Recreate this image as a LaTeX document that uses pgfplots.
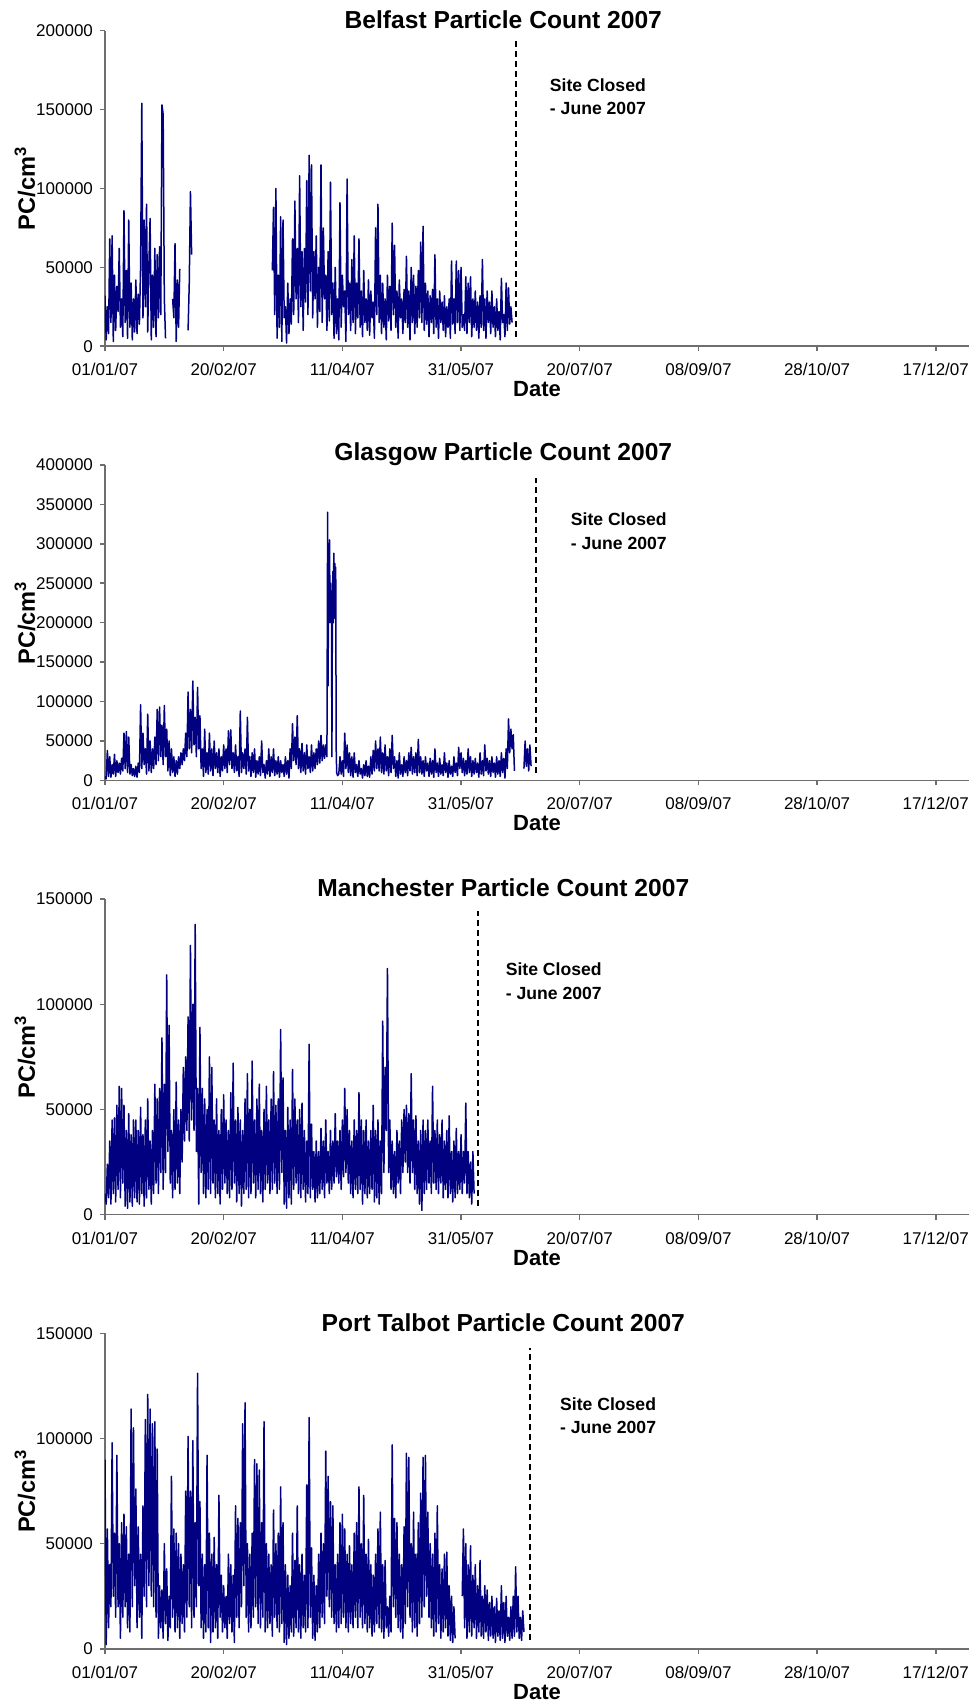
\documentclass[border=0pt]{standalone}
\usepackage{fontspec}
\setmainfont{Liberation Sans}
\usepackage{pgfplots}
\pgfplotsset{compat=1.18}
\definecolor{navyline}{RGB}{0,0,128}
\definecolor{axgray}{RGB}{110,110,110}
\pgfplotsset{
  pcaxis/.style={
    scale only axis, width=432pt, height=157.75pt,
    xmin=0, xmax=364, ymin=0,
    axis x line*=bottom, axis y line*=left,
    axis line style={axgray, line width=0.75pt},
    tick style={axgray, line width=0.75pt},
    tick align=outside, major tick length=2.5pt,
    xtick={0,50,...,350},
    xticklabels={01/01/07,20/02/07,11/04/07,31/05/07,20/07/07,08/09/07,28/10/07,17/12/07},
    ticklabel style={font=\fontsize{8.5}{10}\selectfont, text=black},
    xticklabel style={yshift=-2.5pt},
    xlabel={Date}, ylabel={PC/cm\textsuperscript{3}},
    label style={font=\bfseries\fontsize{11}{12}\selectfont},
    xlabel style={at={(axis description cs:0.5,-0.1363)}, anchor=center},
    ylabel style={at={(axis description cs:-0.0926,0.5)}, anchor=center,
      font=\bfseries\fontsize{11.8}{13}\selectfont},
    every axis title shift=0pt,
    title style={at={(axis description cs:0.461,1)}, anchor=center, yshift=5.5pt,
      font=\bfseries\fontsize{12.3}{14}\selectfont},
  },
  pc/.style={color=navyline, line width=0.75pt, mark=none, line join=round},
}
\tikzset{
  closed/.style={black, line width=1pt, dash pattern=on 3pt off 2pt},
  note/.style={anchor=west, inner sep=0pt, font=\bfseries\fontsize{8.8}{10}\selectfont},
}

\begin{document}
\begin{tikzpicture}
\useasboundingbox (0,0) rectangle (488pt,-852pt);

% Belfast
\begin{axis}[pcaxis, at={(52.5pt,-15.35pt)}, anchor=north west,
  title={Belfast Particle Count 2007},
  ymax=200, ytick={0,50,100,150,200},
  yticklabels={0,50000,100000,150000,200000}]
\addplot[pc] coordinates {(0,32)(0.5,4)(1,25)(1.5,8)(2,68)(2.5,15)(3,70)(3.5,3)(4,45)(4.5,10)(5,38)(5.5,22)(6,62)(6.5,12)(7,30)(7.5,6)(8,86)(8.5,15)(9,48)(9.5,5)(10,80)(10.5,12)(11,40)(11.5,4)(12,30)(12.5,9)(13,42)(13.5,8)(14,33)(14.5,14)(15,51)(15.5,154)(16,18)(16.5,80)(17,25)(17.5,90)(18,9)(18.5,52)(19,81)(19.5,4)(20,45)(20.5,12)(21,62)(21.5,6)(22,58)(22.5,18)(23,63)(23.5,20)(24,153)(24.5,147)(25,30)(25.5,5)};
\addplot[pc] coordinates {(28.5,30)(29,18)(29.5,65)(30,3)(30.5,42)(31,12)(31.5,49)};
\addplot[pc] coordinates {(35,10)(35.5,40)(36,98)(36.5,58)};
\addplot[pc] coordinates {(70.5,48)(71,88)(71.5,20)(72,100)(72.5,5)(73,45)(73.5,12)(74,82)(74.5,3)(75,80)(75.5,18)(76,25)(76.5,2)(77,40)(77.5,8)(78,30)(78.5,14)(79,68)(79.5,20)(80,92)(80.5,30)(81,62)(81.5,15)(82,108)(82.5,25)(83,60)(83.5,10)(84,62)(84.5,28)(85,105)(85.5,20)(86,121)(86.5,35)(87,115)(87.5,18)(88,60)(88.5,30)(89,70)(89.5,12)(90,50)(90.5,22)(91,115)(91.5,15)(92,75)(92.5,30)(93,45)(93.5,10)(94,60)(94.5,16)(95,104)(95.5,20)(96,40)(96.5,5)(97,50)(97.5,8)(98,30)(98.5,4)(99,91)(99.5,12)(100,45)(100.5,25)(101,35)(101.5,3)(102,106)(102.5,20)(103,40)(103.5,10)(104,55)(104.5,15)(105,70)(105.5,8)(106,40)(106.5,18)(107,68)(107.5,12)(108,35)(108.5,6)(109,48)(109.5,15)(110,30)(110.5,10)(111,42)(111.5,7)(112,35)(112.5,18)(113,28)(113.5,5)(114,75)(114.5,20)(115,90)(115.5,15)(116,45)(116.5,8)(117,40)(117.5,12)(118,30)(118.5,4)(119,45)(119.5,16)(120,38)(120.5,10)(121,78)(121.5,20)(122,64)(122.5,12)(123,35)(123.5,5)(124,42)(124.5,18)(125,30)(125.5,8)(126,36)(126.5,15)(127,57)(127.5,12)(128,35)(128.5,4)(129,50)(129.5,15)(130,45)(130.5,8)(131,38)(131.5,12)(132,48)(132.5,18)(133,66)(133.5,15)(134,76)(134.5,10)(135,40)(135.5,14)(136,35)(136.5,6)(137,32)(137.5,15)(138,36)(138.5,8)(139,58)(139.5,12)(140,30)(140.5,5)(141,35)(141.5,15)(142,28)(142.5,10)(143,32)(143.5,6)(144,25)(144.5,12)(145,30)(145.5,5)(146,54)(146.5,14)(147,30)(147.5,8)(148,54)(148.5,15)(149,48)(149.5,10)(150,50)(150.5,12)(151,20)(151.5,10)(152,44)(152.5,8)(153,40)(153.5,15)(154,44)(154.5,6)(155,30)(155.5,12)(156,35)(156.5,10)(157,28)(157.5,5)(158,32)(158.5,12)(159,55)(159.5,10)(160,30)(160.5,5)(161,35)(161.5,15)(162,28)(162.5,8)(163,35)(163.5,12)(164,25)(164.5,6)(165,30)(165.5,10)(166,22)(166.5,4)(167,43)(167.5,15)(168,20)(168.5,6)(169,40)(169.5,10)(170,37)(170.5,14)(171,25)(171.5,15)};
\draw[closed] (axis cs:173.3,6) -- (axis cs:173.3,194);
\node[note] at (axis cs:187.3,165.6) {Site Closed};
\node[note] at (axis cs:187.3,150.9) {- June 2007};
\end{axis}

% Glasgow
\begin{axis}[pcaxis, at={(52.5pt,-232.45pt)}, anchor=north west,
  title={Glasgow Particle Count 2007},
  ymax=400, ytick={0,50,...,400},
  yticklabels={0,50000,100000,150000,200000,250000,300000,350000,400000}]
\addplot[pc] coordinates {(0,5)(0.5,2)(1,38)(1.5,5)(2,30)(2.5,4)(3,20)(3.5,8)(4,33)(4.5,5)(5,25)(5.5,10)(6,22)(6.5,8)(7,28)(7.5,12)(8,60)(8.5,15)(9,62)(9.5,10)(10,55)(10.5,8)(11,20)(11.5,6)(12,15)(12.5,5)(13,18)(13.5,4)(14,22)(14.5,10)(15,96)(15.5,15)(16,60)(16.5,20)(17,40)(17.5,8)(18,84)(18.5,12)(19,50)(19.5,10)(20,40)(20.5,15)(21,55)(21.5,20)(22,90)(22.5,25)(23,93)(23.5,30)(24,70)(24.5,20)(25,95)(25.5,30)(26,65)(26.5,12)(27,50)(27.5,6)(28,40)(28.5,10)(29,30)(29.5,5)(30,25)(30.5,8)(31,30)(31.5,15)(32,35)(32.5,20)(33,40)(33.5,25)(34,60)(34.5,30)(35,112)(35.5,40)(36,90)(36.5,35)(37,126)(37.5,45)(38,80)(38.5,30)(39,118)(39.5,40)(40,82)(40.5,15)(41,40)(41.5,5)(42,65)(42.5,10)(43,35)(43.5,8)(44,60)(44.5,12)(45,40)(45.5,6)(46,50)(46.5,15)(47,35)(47.5,10)(48,40)(48.5,5)(49,30)(49.5,12)(50,45)(50.5,15)(51,40)(51.5,10)(52,63)(52.5,20)(53,64)(53.5,15)(54,35)(54.5,10)(55,45)(55.5,12)(56,30)(56.5,5)(57,88)(57.5,10)(58,35)(58.5,15)(59,40)(59.5,8)(60,80)(60.5,12)(61,30)(61.5,5)(62,35)(62.5,10)(63,40)(63.5,4)(64,25)(64.5,8)(65,30)(65.5,6)(66,50)(66.5,10)(67,20)(67.5,3)(68,25)(68.5,8)(69,40)(69.5,5)(70,30)(70.5,10)(71,40)(71.5,6)(72,25)(72.5,8)(73,30)(73.5,4)(74,25)(74.5,10)(75,20)(75.5,5)(76,30)(76.5,8)(77,25)(77.5,3)(78,40)(78.5,15)(79,72)(79.5,25)(80,55)(80.5,20)(81,82)(81.5,15)(82,40)(82.5,10)(83,47)(83.5,12)(84,35)(84.5,8)(85,45)(85.5,15)(86,30)(86.5,10)(87,45)(87.5,12)(88,35)(88.5,15)(89,40)(89.5,20)(90,50)(90.5,22)(91,57)(91.5,25)(92,45)(92.5,28)(93,45)(93.5,30)(93.8,340)(94,120)(94.2,300)(94.4,220)(94.6,305)(94.8,200)(95,250)(95.2,210)(95.4,240)(95.6,30)(95.8,220)(96,265)(96.2,200)(96.4,288)(96.6,210)(96.8,275)(97,205)(97.2,270)(97.4,40)(97.6,10)(98,6)(98.5,8)(99,30)(99.5,8)(100,25)(100.5,5)(101,60)(101.5,15)(102,45)(102.5,10)(103,35)(103.5,6)(104,30)(104.5,4)(105,35)(105.5,10)(106,20)(106.5,5)(107,25)(107.5,8)(108,15)(108.5,3)(109,20)(109.5,6)(110,25)(110.5,5)(111,18)(111.5,4)(112,30)(112.5,8)(113,38)(113.5,12)(114,50)(114.5,15)(115,40)(115.5,12)(116,55)(116.5,10)(117,35)(117.5,8)(118,45)(118.5,12)(119,30)(119.5,6)(120,40)(120.5,10)(121,57)(121.5,15)(122,30)(122.5,5)(123,25)(123.5,3)(124,35)(124.5,8)(125,20)(125.5,5)(126,30)(126.5,10)(127,25)(127.5,6)(128,35)(128.5,12)(129,42)(129.5,8)(130,30)(130.5,10)(131,35)(131.5,6)(132,52)(132.5,10)(133,30)(133.5,8)(134,25)(134.5,5)(135,30)(135.5,12)(136,22)(136.5,5)(137,28)(137.5,8)(138,25)(138.5,4)(139,40)(139.5,10)(140,22)(140.5,5)(141,28)(141.5,8)(142,20)(142.5,6)(143,35)(143.5,10)(144,22)(144.5,4)(145,25)(145.5,8)(146,18)(146.5,5)(147,30)(147.5,10)(148,22)(148.5,6)(149,42)(149.5,15)(150,35)(150.5,10)(151,28)(151.5,6)(152,25)(152.5,8)(153,40)(153.5,10)(154,30)(154.5,5)(155,25)(155.5,8)(156,28)(156.5,10)(157,22)(157.5,4)(158,35)(158.5,8)(159,25)(159.5,6)(160,45)(160.5,12)(161,28)(161.5,8)(162,25)(162.5,5)(163,30)(163.5,10)(164,22)(164.5,4)(165,30)(165.5,8)(166,25)(166.5,5)(167,35)(167.5,10)(168,28)(168.5,3)(169,40)(169.5,15)(170,78)(170.5,35)(171,65)(171.5,40)(172,58)(172.5,12)};
\addplot[pc] coordinates {(176.5,15)(177,50)(177.5,18)(178,40)(178.5,12)(179,45)(179.5,18)};
\draw[closed] (axis cs:181.4,10) -- (axis cs:181.4,383);
\node[note] at (axis cs:196.1,331) {Site Closed};
\node[note] at (axis cs:196.1,300.6) {- June 2007};
\end{axis}

% Manchester
\begin{axis}[pcaxis, at={(52.5pt,-449.55pt)}, anchor=north west,
  title={Manchester Particle Count 2007},
  ymax=150, ytick={0,50,100,150},
  yticklabels={0,50000,100000,150000}]
\addplot[pc] coordinates {(0,10)(0.5,5)(1,24)(1.5,8)(2,35)(2.5,5)(3,45)(3.5,10)(4,46)(4.5,6)(5,52)(5.5,12)(6,61)(6.5,8)(7,60)(7.5,15)(8,52)(8.5,4)(9,40)(9.5,3)(10,48)(10.5,6)(11,38)(11.5,4)(12,45)(12.5,8)(13,45)(13.5,6)(14,40)(14.5,5)(15,51)(15.5,10)(16,38)(16.5,4)(17,45)(17.5,8)(18,55)(18.5,12)(19,35)(19.5,5)(20,40)(20.5,10)(21,62)(21.5,15)(22,55)(22.5,10)(23,60)(23.5,20)(24,84)(24.5,12)(25,62)(25.5,20)(26,114)(26.5,30)(27,90)(27.5,15)(28,40)(28.5,8)(29,50)(29.5,12)(30,63)(30.5,15)(31,45)(31.5,10)(32,50)(32.5,25)(33,70)(33.5,35)(34,75)(34.5,40)(35,94)(35.5,35)(36,128)(36.5,45)(37,100)(37.5,40)(38,138)(38.5,30)(39,60)(39.5,5)(40,89)(40.5,20)(41,60)(41.5,10)(42,55)(42.5,8)(43,50)(43.5,12)(44,75)(44.5,10)(45,70)(45.5,15)(46,45)(46.5,8)(47,55)(47.5,10)(48,40)(48.5,5)(49,50)(49.5,12)(50,57)(50.5,15)(51,45)(51.5,10)(52,40)(52.5,8)(53,58)(53.5,12)(54,72)(54.5,15)(55,45)(55.5,6)(56,51)(56.5,10)(57,45)(57.5,4)(58,40)(58.5,10)(59,55)(59.5,12)(60,67)(60.5,8)(61,50)(61.5,10)(62,73)(62.5,15)(63,45)(63.5,8)(64,55)(64.5,12)(65,62)(65.5,10)(66,40)(66.5,6)(67,50)(67.5,12)(68,61)(68.5,15)(69,45)(69.5,10)(70,55)(70.5,12)(71,68)(71.5,15)(72,52)(72.5,10)(73,55)(73.5,12)(74,88)(74.5,20)(75,65)(75.5,5)(76,40)(76.5,3)(77,51)(77.5,8)(78,45)(78.5,5)(79,69)(79.5,12)(80,55)(80.5,15)(81,45)(81.5,10)(82,50)(82.5,8)(83,53)(83.5,12)(84,40)(84.5,6)(85,35)(85.5,10)(86,81)(86.5,8)(87,43)(87.5,12)(88,30)(88.5,6)(89,35)(89.5,8)(90,30)(90.5,10)(91,41)(91.5,12)(92,35)(92.5,8)(93,45)(93.5,15)(94,30)(94.5,10)(95,40)(95.5,12)(96,35)(96.5,15)(97,48)(97.5,18)(98,35)(98.5,15)(99,40)(99.5,12)(100,45)(100.5,18)(101,60)(101.5,20)(102,50)(102.5,15)(103,40)(103.5,10)(104,35)(104.5,8)(105,45)(105.5,12)(106,40)(106.5,10)(107,58)(107.5,12)(108,45)(108.5,5)(109,40)(109.5,10)(110,45)(110.5,8)(111,35)(111.5,10)(112,40)(112.5,12)(113,52)(113.5,6)(114,40)(114.5,8)(115,45)(115.5,5)(116,35)(116.5,10)(117,92)(117.5,20)(118,70)(118.5,40)(119,117)(119.5,20)(120,45)(120.5,12)(121,35)(121.5,10)(122,30)(122.5,8)(123,40)(123.5,15)(124,35)(124.5,10)(125,45)(125.5,20)(126,50)(126.5,25)(127,52)(127.5,20)(128,48)(128.5,15)(129,67)(129.5,20)(130,45)(130.5,12)(131,47)(131.5,10)(132,35)(132.5,5)(133,40)(133.5,2)(134,45)(134.5,10)(135,40)(135.5,12)(136,45)(136.5,15)(137,35)(137.5,10)(138,61)(138.5,15)(139,40)(139.5,12)(140,45)(140.5,10)(141,38)(141.5,15)(142,45)(142.5,8)(143,35)(143.5,12)(144,40)(144.5,8)(145,47)(145.5,10)(146,30)(146.5,6)(147,35)(147.5,8)(148,41)(148.5,10)(149,30)(149.5,12)(150,38)(150.5,10)(151,30)(151.5,15)(152,53)(152.5,10)(153,30)(153.5,8)(154,25)(154.5,5)(155,30)(155.5,10)};
\draw[closed] (axis cs:157.3,4) -- (axis cs:157.3,144.3);
\node[note] at (axis cs:168.7,116.5) {Site Closed};
\node[note] at (axis cs:168.7,105.1) {- June 2007};
\end{axis}

% Port Talbot
\begin{axis}[pcaxis, at={(52.5pt,-666.65pt)}, anchor=north west,
  title={Port Talbot Particle Count 2007},
  ymax=150, ytick={0,50,100,150},
  yticklabels={0,50000,100000,150000}]
\addplot[pc] coordinates {(0,90)(0.5,2)(1,57)(1.5,10)(2,40)(2.5,20)(3,98)(3.5,25)(4,55)(4.5,15)(5,92)(5.5,20)(6,50)(6.5,5)(7,60)(7.5,15)(8,64)(8.5,20)(9,58)(9.5,10)(10,45)(10.5,8)(11,114)(11.5,20)(12,105)(12.5,30)(13,76)(13.5,10)(14,58)(14.5,15)(15,45)(15.5,5)(16,68)(16.5,25)(17,109)(17.5,20)(18,121)(18.5,30)(19,114)(19.5,25)(20,107)(20.5,20)(21,108)(21.5,15)(22,95)(22.5,5)(23,30)(23.5,10)(24,28)(24.5,5)(25,50)(25.5,12)(26,38)(26.5,4)(27,25)(27.5,10)(28,82)(28.5,15)(29,57)(29.5,8)(30,55)(30.5,10)(31,50)(31.5,5)(32,45)(32.5,12)(33,40)(33.5,8)(34,75)(34.5,15)(35,101)(35.5,20)(36,75)(36.5,10)(37,99)(37.5,15)(38,60)(38.5,20)(39,131)(39.5,30)(40,70)(40.5,10)(41,45)(41.5,5)(42,40)(42.5,8)(43,92)(43.5,10)(44,55)(44.5,3)(45,45)(45.5,8)(46,53)(46.5,10)(47,40)(47.5,5)(48,73)(48.5,15)(49,35)(49.5,8)(50,30)(50.5,10)(51,25)(51.5,5)(52,45)(52.5,12)(53,40)(53.5,8)(54,35)(54.5,3)(55,68)(55.5,15)(56,62)(56.5,10)(57,60)(57.5,20)(58,107)(58.5,30)(59,117)(59.5,15)(60,50)(60.5,8)(61,45)(61.5,10)(62,55)(62.5,15)(63,90)(63.5,20)(64,88)(64.5,12)(65,85)(65.5,10)(66,60)(66.5,15)(67,108)(67.5,8)(68,50)(68.5,10)(69,45)(69.5,12)(70,40)(70.5,6)(71,66)(71.5,15)(72,50)(72.5,10)(73,55)(73.5,8)(74,77)(74.5,12)(75,60)(75.5,3)(76,40)(76.5,2)(77,35)(77.5,5)(78,30)(78.5,8)(79,55)(79.5,6)(80,42)(80.5,10)(81,68)(81.5,8)(82,40)(82.5,5)(83,45)(83.5,10)(84,35)(84.5,8)(85,78)(85.5,10)(86,110)(86.5,15)(87,48)(87.5,5)(88,35)(88.5,4)(89,30)(89.5,8)(90,45)(90.5,10)(91,55)(91.5,15)(92,50)(92.5,12)(93,94)(93.5,25)(94,82)(94.5,20)(95,70)(95.5,15)(96,68)(96.5,12)(97,40)(97.5,8)(98,45)(98.5,10)(99,60)(99.5,12)(100,64)(100.5,15)(101,57)(101.5,10)(102,45)(102.5,8)(103,49)(103.5,12)(104,40)(104.5,10)(105,55)(105.5,15)(106,60)(106.5,10)(107,77)(107.5,15)(108,50)(108.5,10)(109,73)(109.5,12)(110,45)(110.5,8)(111,52)(111.5,10)(112,40)(112.5,6)(113,35)(113.5,8)(114,45)(114.5,12)(115,57)(115.5,10)(116,65)(116.5,8)(117,40)(117.5,5)(118,42)(118.5,10)(119,20)(119.5,6)(120,25)(120.5,8)(121,97)(121.5,20)(122,62)(122.5,15)(123,60)(123.5,10)(124,45)(124.5,8)(125,40)(125.5,5)(126,58)(126.5,12)(127,93)(127.5,20)(128,91)(128.5,15)(129,50)(129.5,8)(130,65)(130.5,10)(131,45)(131.5,6)(132,60)(132.5,12)(133,74)(133.5,15)(134,91)(134.5,20)(135,92)(135.5,25)(136,65)(136.5,15)(137,50)(137.5,10)(138,45)(138.5,6)(139,55)(139.5,8)(140,68)(140.5,12)(141,40)(141.5,5)(142,38)(142.5,8)(143,45)(143.5,10)(144,46)(144.5,6)(145,30)(145.5,4)(146,25)(146.5,3)(147,20)(147.5,5)};
\addplot[pc] coordinates {(150.5,25)(151,57)(151.5,10)(152,50)(152.5,5)(153,40)(153.5,8)(154,49)(154.5,6)(155,35)(155.5,10)(156,40)(156.5,5)(157,30)(157.5,8)(158,42)(158.5,6)(159,25)(159.5,5)(160,30)(160.5,8)(161,28)(161.5,4)(162,22)(162.5,6)(163,25)(163.5,5)(164,20)(164.5,3)(165,24)(165.5,6)(166,18)(166.5,4)(167,30)(167.5,5)(168,22)(168.5,3)(169,25)(169.5,6)(170,15)(170.5,4)(171,20)(171.5,5)(172,25)(172.5,6)(173,39)(173.5,8)(174,25)(174.5,5)(175,15)(175.5,4)(176,18)(176.5,8)};
\draw[closed] (axis cs:179,4) -- (axis cs:179,143.1);
\node[note] at (axis cs:191.6,116.2) {Site Closed};
\node[note] at (axis cs:191.6,105.4) {- June 2007};
\end{axis}
\end{tikzpicture}
\end{document}
